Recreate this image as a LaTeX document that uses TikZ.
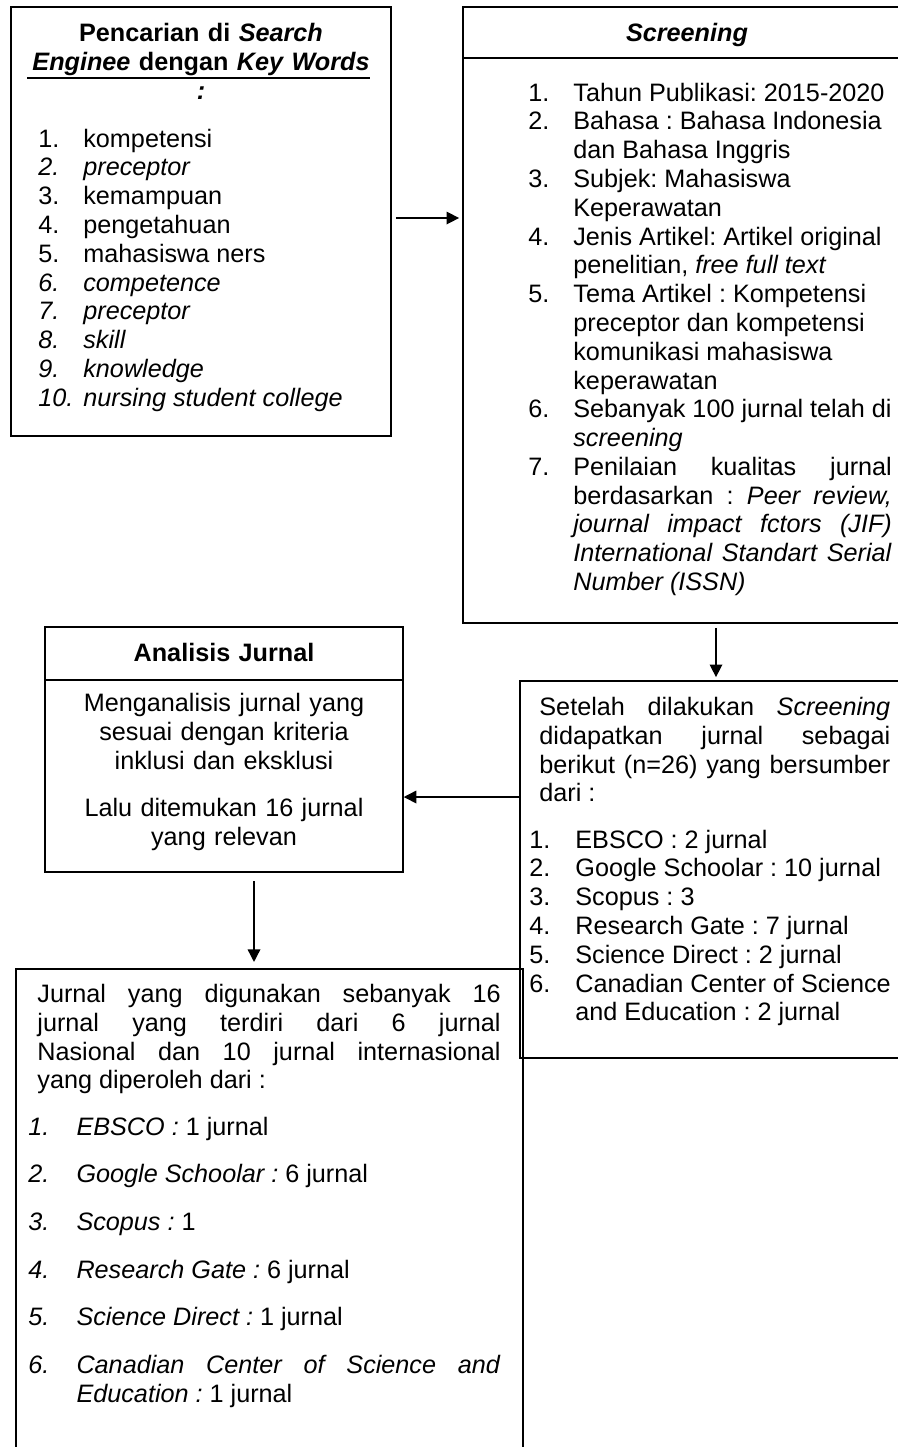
\documentclass[tikz,border=0pt]{standalone}
\usepackage{fontspec}
\setmainfont{Liberation Sans}
\usetikzlibrary{fit,arrows.meta}

\newlength\numw
\newcommand\litem[2]{\par\hangindent=\numw\hangafter=1\noindent\makebox[\numw][l]{\strut#1}#2\par}

\tikzset{
  box/.style={draw, line width=0.7pt, inner sep=0pt},
  txt/.style={inner sep=0pt, anchor=north west, font=\fontsize{12}{13.7}\selectfont},
  flow/.style={-{Triangle[length=6pt,width=6pt]}, line width=0.7pt},
}

\begin{document}
\frenchspacing
\hyphenpenalty=10000\relax
\begin{tikzpicture}[x=0.476pt, y=-0.476pt]
\useasboundingbox (0,0) rectangle (898,1447);
\clip (0,0) rectangle (898,1447);

% kotak
\node[box, fit={(11,7) (391,436)}] (search) {};
\node[box, fit={(463,7) (911,623)}] (screen) {};
\node[box, fit={(520,681) (911,1058)}] (result) {};
\node[box, fit={(45,627) (403,872)}] (analysis) {};
\node[box, fit={(16,969) (523,1480)}] (final) {};
\draw[line width=0.7pt] (463,58) -- (911,58);
\draw[line width=0.7pt] (45,680) -- (403,680);
\draw[line width=0.7pt] (27,78) -- (370,78);

% isi kotak
\node[txt, anchor=north, text width=171pt, align=center] (searchhead) at (201,21) {\strut\textbf{Pencarian di \textit{Search}}\\ \textbf{\textit{Enginee} dengan \textit{Key Words}}\\ \textbf{\textit{:}}};
\node[txt, text width=162pt, align=justify] (searchlist) at (38,118) {\setlength\numw{21.4pt}%
  \litem{1.}{kompetensi}
  \litem{\textit{2.}}{\textit{preceptor}}
  \litem{3.}{kemampuan}
  \litem{4.}{pengetahuan}
  \litem{5.}{mahasiswa ners}
  \litem{\textit{6.}}{\textit{competence}}
  \litem{\textit{7.}}{\textit{preceptor}}
  \litem{\textit{8.}}{\textit{skill}}
  \litem{\textit{9.}}{\textit{knowledge}}
  \litem{\textit{10.}}{\textit{nursing student college}}};

\node[txt, anchor=north, text width=180pt, align=center] (screenhead) at (687,21) {\strut\textbf{\textit{Screening}}};
\node[txt, text width=173pt, align=justify] (screenlist) at (528,72) {\setlength\numw{21.4pt}%
  \litem{1.}{Tahun Publikasi: 2015-2020}
  \litem{2.}{Bahasa : Bahasa Indonesia\\ dan Bahasa Inggris}
  \litem{3.}{Subjek: Mahasiswa\\ Keperawatan}
  \litem{4.}{Jenis Artikel: Artikel original\\ penelitian, \textit{free full text}}
  \litem{5.}{Tema Artikel : Kompetensi\\ preceptor dan kompetensi\\ komunikasi mahasiswa\\ keperawatan}
  \litem{6.}{Sebanyak 100 jurnal telah di\\ \textit{screening}}
  \litem{7.}{Penilaian kualitas jurnal\linebreak berdasarkan : \textit{Peer review,}\linebreak \textit{journal impact fctors (JIF)}\linebreak \textit{International Standart Serial}\linebreak \textit{Number (ISSN)}}};

\node[txt, text width=167pt, align=justify] (resulttext) at (539,695) {\strut Setelah dilakukan \textit{Screening}\linebreak didapatkan jurnal sebagai\linebreak berikut (n=26) yang bersumber\linebreak dari :};
\node[txt, text width=176pt, align=justify] (resultlist) at (529,819) {\setlength\numw{21.9pt}%
  \litem{1.}{EBSCO : 2 jurnal}
  \litem{2.}{Google Schoolar : 10 jurnal}
  \litem{3.}{Scopus : 3}
  \litem{4.}{Research Gate : 7 jurnal}
  \litem{5.}{Science Direct : 2 jurnal}
  \litem{6.}{Canadian Center of Science\\ and Education : 2 jurnal}};

\node[txt, anchor=north, text width=165pt, align=center] (analysishead) at (224,641) {\strut\textbf{Analisis Jurnal}};
\node[txt, anchor=north, text width=165pt, align=center] (analysistext) at (224,691) {\strut Menganalisis jurnal yang\\ sesuai dengan kriteria\\ inklusi dan eksklusi\par\vspace{8.9pt}Lalu ditemukan 16 jurnal\\ yang relevan};

\node[txt, text width=220.5pt, align=justify] (finaltext) at (37,982) {\strut Jurnal yang digunakan sebanyak 16\linebreak jurnal yang terdiri dari 6 jurnal\linebreak Nasional dan 10 jurnal internasional\linebreak yang diperoleh dari :};
\node[txt, text width=224.8pt, align=justify] (finallist) at (28,1106) {\setlength\numw{22.9pt}%
  \litem{\textit{1.}}{\textit{EBSCO :} 1 jurnal}\setlength\parskip{9pt}
  \litem{\textit{2.}}{\textit{Google Schoolar :} 6 jurnal}
  \litem{\textit{3.}}{\textit{Scopus :} 1}
  \litem{\textit{4.}}{\textit{Research Gate :} 6 jurnal}
  \litem{\textit{5.}}{\textit{Science Direct :} 1 jurnal}
  \litem{\textit{6.}}{\textit{Canadian Center of Science and}\linebreak \textit{Education :} 1 jurnal}};

% panah
\coordinate (r1) at (0,218);
\coordinate (r2) at (716,0);
\coordinate (r3) at (0,797);
\coordinate (r4) at (254,0);
\draw[flow, shorten <=2pt, shorten >=1.5pt] (r1 -| search.east) -- (r1 -| screen.west);
\draw[flow, shorten <=2pt, shorten >=1.5pt] (r2 |- screen.south) -- (r2 |- result.north);
\draw[flow] (r3 -| result.west) -- (r3 -| analysis.east);
\draw[flow, shorten <=4pt, shorten >=3pt] (r4 |- analysis.south) -- (r4 |- final.north);

\end{tikzpicture}
\end{document}
